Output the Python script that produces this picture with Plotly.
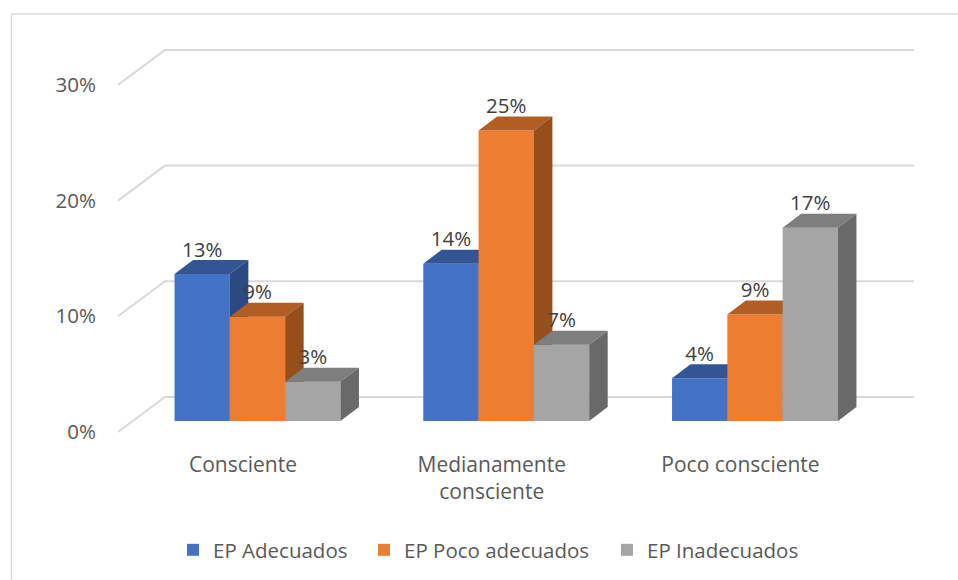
import plotly.graph_objects as go

categories = ["Consciente", "Medianamente<br>consciente", "Poco consciente"]
series_names = ["EP Adecuados", "EP Poco adecuados", "EP Inadecuados"]
adecuados = [12.7, 13.6, 3.7]
poco_adecuados = [9.0, 25.1, 9.2]
inadecuados = [3.4, 6.6, 16.7]
axis_ticks = [0, 10, 20, 30]

front_colors = ["#4472C4", "#ED7D31", "#A5A5A5"]
top_colors = ["#335593", "#B15E24", "#7E7E7E"]
side_colors = ["#2B4A84", "#964E1B", "#696969"]

W, H = 958, 580
L, R, T, AXIS_BOTTOM = 97, 28, 14, 450
PW, PH = W - L - R, H - T
PX_X = 248.75
PX_Y = 11.57
CX0 = 257.5
Y0 = 432


def xd(px):
    return (px - CX0) / PX_X


def yd(px):
    return (Y0 - px) / PX_Y


def xp(px):
    return (px - L) / PW


def yp(px):
    return (H - px) / PH


bar_w = 55.3 / PX_X
base = yd(421)
dx = 18.5 / PX_X
dy = 14 / PX_Y
all_vals = [adecuados, poco_adecuados, inadecuados]
legend_x = [173, 364, 607]

fig = go.Figure()

# 3D-look gridlines (side wall + back wall) on the base axes
for t in axis_ticks:
    fig.add_trace(go.Scatter(
        x=[xd(118), xd(165), xd(914)],
        y=[t, t + yd(397), t + yd(397)],
        mode="lines", line=dict(color="#D9D9D9", width=2),
        showlegend=False, hoverinfo="skip", cliponaxis=False,
    ))

for s, vals in enumerate(all_vals):
    n = str(s + 2)
    xa, ya = "x" + n, "y" + n
    xs = [i + (s - 1) * bar_w for i in range(3)]
    fig.add_trace(go.Bar(
        x=xs, y=vals, base=[base] * 3, width=bar_w, name=series_names[s],
        marker=dict(color=front_colors[s], line=dict(width=0)),
        xaxis=xa, yaxis=ya, legend="legend" if s == 0 else f"legend{s + 1}",
    ))
    for xc, v in zip(xs, vals):
        xl, xr = xc - bar_w / 2, xc + bar_w / 2
        top = base + v
        fig.add_trace(go.Scatter(
            x=[xl, xr, xr + dx, xl + dx, xl],
            y=[top, top, top + dy, top + dy, top],
            fill="toself", fillcolor=top_colors[s], mode="lines",
            line=dict(width=0), showlegend=False, hoverinfo="skip",
            xaxis=xa, yaxis=ya,
        ))
        fig.add_trace(go.Scatter(
            x=[xr, xr + dx, xr + dx, xr, xr],
            y=[base, base + dy, top + dy, top, base],
            fill="toself", fillcolor=side_colors[s], mode="lines",
            line=dict(width=0), showlegend=False, hoverinfo="skip",
            xaxis=xa, yaxis=ya,
        ))

# data labels on the top layer
for s, vals in enumerate(all_vals):
    xs = [i + (s - 1) * bar_w for i in range(3)]
    fig.add_trace(go.Scatter(
        x=xs, y=[base + v + 22.5 / PX_Y for v in vals],
        text=[f"{round(v)}%" for v in vals],
        mode="text", textposition="middle center",
        textfont=dict(family="Open Sans", size=20.5, color="#404040"),
        showlegend=False, hoverinfo="skip", xaxis="x4", yaxis="y4", cliponaxis=False,
    ))

xr_range = [xd(L), xd(W - R)]
yr_range = [yd(AXIS_BOTTOM), yd(T)]

layout = dict(
    width=W, height=H, autosize=False,
    margin=dict(l=L, r=R, t=T, b=0, pad=0),
    paper_bgcolor="white", plot_bgcolor="rgba(0,0,0,0)",
    barmode="overlay",
    font=dict(family="Open Sans", color="#595959"),
    xaxis=dict(
        range=xr_range, tickmode="array",
        tickvals=[i - 14.5 / PX_X for i in range(3)], ticktext=categories,
        showgrid=False, zeroline=False, showline=False, ticks="",
        tickfont=dict(family="Open Sans", size=21, color="#595959"), tickangle=0,
    ),
    yaxis=dict(
        range=yr_range, domain=[yp(AXIS_BOTTOM), 1], tickmode="array", tickvals=axis_ticks,
        ticktext=[f"{t}%" for t in axis_ticks],
        showgrid=False, zeroline=False, showline=False, ticks="",
        tickfont=dict(family="Open Sans", size=20.5, color="#595959"),
    ),
    shapes=[dict(
        type="path", xref="paper", yref="paper",
        path=f"M {xp(11.5)} {yp(580)} L {xp(11.5)} {yp(14)} L {xp(958)} {yp(14)}",
        line=dict(color="#D9D9D9", width=1.5),
    )],
    showlegend=True,
)
for i, lx in enumerate(legend_x):
    key = "legend" if i == 0 else f"legend{i + 1}"
    layout[key] = dict(
        orientation="h", x=xp(lx), y=yp(550), xanchor="left", yanchor="middle",
        font=dict(family="Open Sans", size=20.5, color="#595959"),
        itemwidth=30, bgcolor="rgba(0,0,0,0)",
    )
for n in (2, 3, 4):
    for ax, rng in (("xaxis", xr_range), ("yaxis", yr_range)):
        layout[f"{ax}{n}"] = dict(
            range=rng, overlaying="x" if ax == "xaxis" else "y",
            anchor="y" if ax == "xaxis" else "x",
            domain=[yp(AXIS_BOTTOM), 1] if ax == "yaxis" else [0, 1],
            visible=False, showgrid=False, zeroline=False,
        )
fig.update_layout(**layout)
fig.write_html("out.html", config={"displayModeBar": False},
               post_script="document.body.style.margin='0';")
